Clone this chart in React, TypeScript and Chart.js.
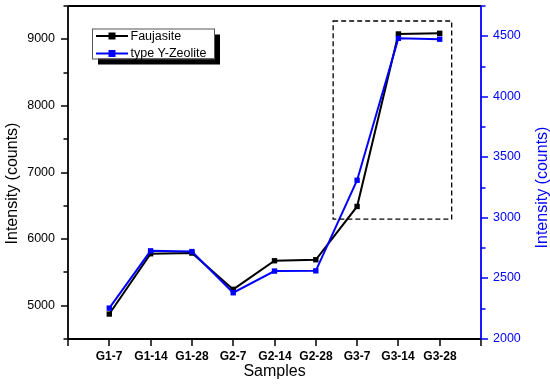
import React, { useEffect, useRef } from "react";
import { Chart, registerables } from "chart.js";

Chart.register(...registerables);

const categories = ["G1-7", "G1-14", "G1-28", "G2-7", "G2-14", "G2-28", "G3-7", "G3-14", "G3-28"];
const faujasite = [4875, 5780, 5790, 5245, 5675, 5690, 6490, 9080, 9090];
const yZeolite = [2255, 2728, 2722, 2382, 2561, 2563, 3311, 4483, 4476];
const leftTicks = [4500, 5000, 5500, 6000, 6500, 7000, 7500, 8000, 8500, 9000, 9500];
const rightTicks = [2000, 2250, 2500, 2750, 3000, 3250, 3500, 3750, 4000, 4250, 4500, 4750];
const highlightBox = { x0: 5.42, x1: 8.29, y0: 6300, y1: 9275 };

const FONT = "'Liberation Sans', Arial, sans-serif";
const BLUE = "#0000ff";

const axesPlugin = {
  id: "originAxes",
  beforeDatasetsDraw(chart: any) {
    const { ctx, chartArea } = chart;
    const { left, right, top, bottom } = chartArea;
    const xs = chart.scales.x;
    const yl = chart.scales.y;
    const yr = chart.scales.y2;
    ctx.save();
    ctx.lineWidth = 1.8;
    ctx.strokeStyle = "#000";
    ctx.beginPath();
    ctx.moveTo(left, top);
    ctx.lineTo(right, top);
    ctx.moveTo(left, top);
    ctx.lineTo(left, bottom);
    ctx.moveTo(left, bottom);
    ctx.lineTo(right, bottom);
    ctx.stroke();

    ctx.lineWidth = 1.5;
    // left ticks
    ctx.font = `12.5px ${FONT}`;
    ctx.fillStyle = "#000";
    ctx.textAlign = "right";
    ctx.textBaseline = "middle";
    leftTicks.forEach((v) => {
      const y = Math.round(yl.getPixelForValue(v));
      const major = v % 1000 === 0;
      ctx.beginPath();
      ctx.moveTo(left, y);
      ctx.lineTo(left - (major ? 7 : 4.5), y);
      ctx.stroke();
      if (major) ctx.fillText(String(v), left - 13, y);
    });

    // bottom ticks
    ctx.font = `bold 12px ${FONT}`;
    ctx.textAlign = "center";
    for (let i = -1; i <= categories.length; i++) {
      const x = Math.round(xs.getPixelForValue(i));
      ctx.beginPath();
      ctx.moveTo(x, bottom);
      ctx.lineTo(x, bottom + 7);
      ctx.stroke();
      if (i >= 0 && i < categories.length) ctx.fillText(categories[i], x, bottom + 18);
    }

    // right axis
    ctx.strokeStyle = BLUE;
    ctx.fillStyle = BLUE;
    ctx.lineWidth = 1.8;
    ctx.beginPath();
    ctx.moveTo(right, top);
    ctx.lineTo(right, bottom);
    ctx.stroke();
    ctx.lineWidth = 1.5;
    ctx.font = `12.5px ${FONT}`;
    ctx.textAlign = "left";
    rightTicks.forEach((v) => {
      const y = Math.round(yr.getPixelForValue(v));
      const major = v % 500 === 0;
      ctx.beginPath();
      ctx.moveTo(right, y);
      ctx.lineTo(right + (major ? 7 : 4.5), y);
      ctx.stroke();
      if (major) ctx.fillText(String(v), right + 12, y);
    });

    // titles
    const cy = (top + bottom) / 2;
    ctx.font = `16px ${FONT}`;
    ctx.textAlign = "center";
    ctx.fillStyle = "#000";
    ctx.fillText("Samples", (left + right) / 2, bottom + 33);
    ctx.save();
    ctx.translate(left - 55, cy + 11);
    ctx.rotate(-Math.PI / 2);
    ctx.fillText("Intensity (counts)", 0, 0);
    ctx.restore();
    ctx.save();
    ctx.fillStyle = BLUE;
    ctx.translate(right + 62, cy + 15);
    ctx.rotate(-Math.PI / 2);
    ctx.fillText("Intensity (counts)", 0, 0);
    ctx.restore();

    ctx.restore();
  },
  afterDraw(chart: any) {
    const { ctx, chartArea } = chart;
    const xs = chart.scales.x;
    const yl = chart.scales.y;
    ctx.save();
    // dashed highlight box
    ctx.strokeStyle = "#000";
    ctx.lineWidth = 1.3;
    ctx.setLineDash([5, 3]);
    const bx0 = xs.getPixelForValue(highlightBox.x0);
    const bx1 = xs.getPixelForValue(highlightBox.x1);
    const by0 = yl.getPixelForValue(highlightBox.y1);
    const by1 = yl.getPixelForValue(highlightBox.y0);
    ctx.strokeRect(bx0, by0, bx1 - bx0, by1 - by0);
    ctx.setLineDash([]);

    // legend
    const lx = chartArea.left + 24;
    const ly = chartArea.top + 22.5;
    const lw = 122;
    const lh = 30;
    ctx.fillStyle = "#000";
    ctx.fillRect(lx + 6, ly + 6, lw, lh);
    ctx.fillStyle = "#fff";
    ctx.fillRect(lx, ly, lw, lh);
    ctx.strokeStyle = "#555";
    ctx.lineWidth = 1;
    ctx.strokeRect(lx + 0.5, ly + 0.5, lw, lh);
    const items = [
      { label: "Faujasite", color: "#000" },
      { label: "type Y-Zeolite", color: BLUE },
    ];
    ctx.font = `12.5px ${FONT}`;
    ctx.textAlign = "left";
    ctx.textBaseline = "middle";
    items.forEach((it, i) => {
      const y = ly + 7.5 + i * 17.5;
      ctx.strokeStyle = it.color;
      ctx.fillStyle = it.color;
      ctx.lineWidth = 2;
      ctx.beginPath();
      ctx.moveTo(lx + 4, y);
      ctx.lineTo(lx + 36, y);
      ctx.stroke();
      ctx.fillRect(lx + 20 - 3.5, y - 3.5, 7, 7);
      ctx.fillStyle = "#000";
      ctx.fillText(it.label, lx + 38.5, y + 0.5);
    });
    ctx.restore();
  },
};

export default function App() {
  const ref = useRef<HTMLCanvasElement | null>(null);
  useEffect(() => {
    if (!ref.current) return;
    const chart = new Chart(ref.current, {
      type: "line",
      data: {
        datasets: [
          {
            label: "Faujasite",
            data: faujasite.map((v, i) => ({ x: i, y: v })),
            borderColor: "#000",
            backgroundColor: "#000",
            borderWidth: 2,
            pointStyle: "rect",
            pointRadius: 3.8,
            pointBorderWidth: 0,
            yAxisID: "y",
            order: 1,
          },
          {
            label: "type Y-Zeolite",
            data: yZeolite.map((v, i) => ({ x: i, y: v })),
            borderColor: BLUE,
            backgroundColor: BLUE,
            borderWidth: 2,
            pointStyle: "rect",
            pointRadius: 3.8,
            pointBorderWidth: 0,
            yAxisID: "y2",
            order: 0,
          },
        ],
      },
      options: {
        responsive: false,
        animation: false,
        layout: { padding: { top: 6, left: 0, right: 0, bottom: 0 } },
        plugins: { legend: { display: false }, tooltip: { enabled: false } },
        scales: {
          x: {
            type: "linear",
            min: -1,
            max: categories.length,
            ticks: { display: false },
            grid: { display: false },
            border: { display: false },
            afterFit: (s: any) => { s.height = 45; },
          },
          y: {
            position: "left",
            min: 4500,
            max: 9500,
            ticks: { display: false },
            grid: { display: false },
            border: { display: false },
            afterFit: (s: any) => { s.width = 68; },
          },
          y2: {
            position: "right",
            min: 2000,
            max: 4750,
            ticks: { display: false },
            grid: { display: false },
            border: { display: false },
            afterFit: (s: any) => { s.width = 69; },
          },
        },
      } as any,
      plugins: [axesPlugin],
    });
    return () => chart.destroy();
  }, []);
  return (
    <div style={{ position: "fixed", left: 0, top: 0, width: 550, height: 384, background: "#fff" }}>
      <canvas ref={ref} width={550} height={384} />
    </div>
  );
}
